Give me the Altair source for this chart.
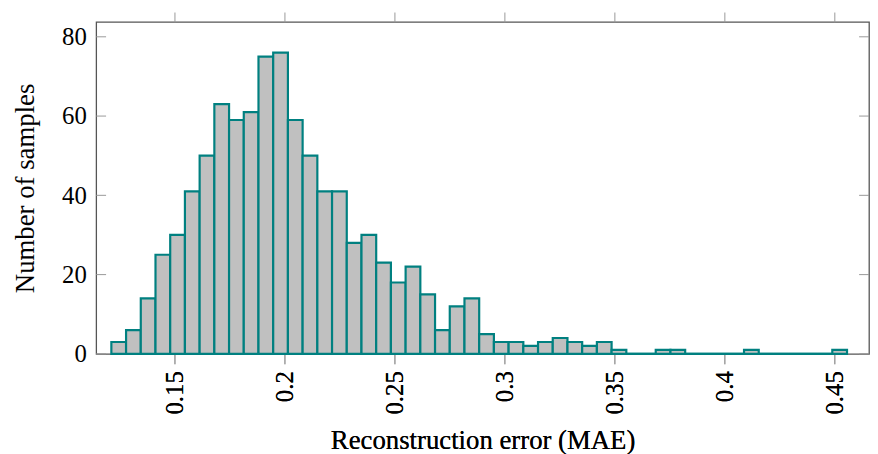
import altair as alt
import pandas as pd

# Histogram of reconstruction error (MAE): 50 equal-width bins
bin_start = 0.1213
bin_width = 0.00669
counts = [3, 6, 14, 25, 30, 41, 50, 63, 59, 61,
          75, 76, 59, 50, 41, 41, 28, 30, 23, 18,
          22, 15, 6, 12, 14, 5, 3, 3, 2, 3,
          4, 3, 2, 3, 1, 0, 0, 1, 1, 0,
          0, 0, 0, 1, 0, 0, 0, 0, 0, 1]
x_ticks = [0.15, 0.2, 0.25, 0.3, 0.35, 0.4, 0.45]
y_ticks = [0, 20, 40, 60, 80]
x_title = "Reconstruction error (MAE)"
y_title = "Number of samples"

df = pd.DataFrame({
    "lo": [bin_start + i * bin_width for i in range(len(counts))],
    "hi": [bin_start + (i + 1) * bin_width for i in range(len(counts))],
    "n": counts,
})
yt = pd.DataFrame({"v": y_ticks})

W, H = 780, 335
FONT = "Liberation Serif"
LS, TS = 25, 27
TEAL = "#008080"
xscale = alt.Scale(domain=[0.1144, 0.4658], nice=False, zero=False)
yscale = alt.Scale(domain=[0, 83.75], nice=False, zero=False)

yaxis = alt.Axis(values=y_ticks, ticks=False, labelPadding=10, domain=False,
                 grid=False, title=y_title, titlePadding=22,
                 labelFontSize=LS, titleFontSize=TS, labelFont=FONT, titleFont=FONT,
                 labelColor="black", titleColor="black", titleFontWeight="normal")
xaxis = alt.Axis(values=x_ticks, orient="bottom", format="~g", labelAngle=270,
                 tickSize=10, tickColor="#999", labelPadding=7, domain=False,
                 grid=False, title=x_title, titlePadding=14,
                 labelFontSize=LS, titleFontSize=TS, labelFont=FONT, titleFont=FONT,
                 labelColor="black", titleColor="black", titleFontWeight="normal")

bars = alt.Chart(df).mark_bar(fill="#c0c0c0", stroke=TEAL, strokeWidth=2.2,
                              binSpacing=0).encode(
    x=alt.X("lo:Q", scale=xscale, axis=xaxis),
    x2="hi:Q",
    y=alt.Y("n:Q", scale=yscale, axis=yaxis),
    y2=alt.datum(0),
)

baseline = alt.Chart(df).mark_rule(color=TEAL, strokeWidth=2.2).encode(
    x=alt.X("min(lo):Q", scale=xscale, axis=xaxis),
    x2="max(hi):Q",
    y=alt.Y("z:Q", scale=yscale, axis=yaxis),
).transform_calculate(z="0")

top = alt.Chart(df).mark_bar(opacity=0).encode(
    x=alt.X("lo:Q", scale=xscale,
            axis=alt.Axis(values=x_ticks, orient="top", labels=False, tickSize=10,
                          tickColor="#999", domain=False, grid=False, title=None)),
    x2="hi:Q",
    y=alt.Y("n:Q", scale=yscale, axis=yaxis),
    y2=alt.datum(0),
)

left_ticks = alt.Chart(yt).mark_rule(color="#999", strokeWidth=1).encode(
    y=alt.Y("v:Q", scale=yscale, axis=yaxis),
    x=alt.value(0), x2=alt.value(10),
)
right_ticks = alt.Chart(yt).mark_rule(color="#999", strokeWidth=1).encode(
    y=alt.Y("v:Q", scale=yscale, axis=yaxis),
    x=alt.value(W - 10), x2=alt.value(W),
)

chart = alt.layer(left_ticks, right_ticks, top, baseline, bars).resolve_scale(
    x="shared", y="shared"
).resolve_axis(x="independent").properties(
    width=W, height=H,
    autosize=alt.AutoSizeParams(type="none"),
    padding={"left": 89, "top": 12, "right": 1, "bottom": 99},
).configure_view(stroke="#555", strokeWidth=1.3)

chart.save("out.html", embed_options={"renderer": "svg", "actions": False})
